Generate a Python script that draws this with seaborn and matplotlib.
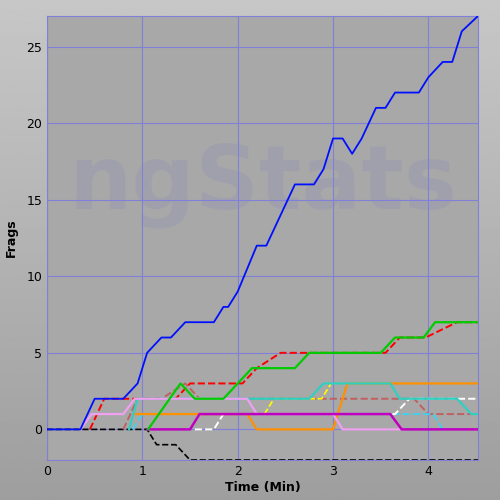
import matplotlib
matplotlib.use("Agg")
import matplotlib.pyplot as plt
import seaborn as sns
import numpy as np
import pandas as pd

# (time in minutes, frags) breakpoints per player
blue_t = [0, 0.35, 0.5, 0.8, 0.95, 1.05, 1.2, 1.3, 1.45, 1.75, 1.85, 1.9, 2.0, 2.2, 2.3, 2.45, 2.6, 2.8, 2.9, 3.0, 3.1, 3.2, 3.3, 3.45, 3.55, 3.65, 3.9, 4.0, 4.15, 4.25, 4.35, 4.52]
blue_v = [0, 0, 2, 2, 3, 5, 6, 6, 7, 7, 8, 8, 9, 12, 12, 14, 16, 16, 17, 19, 19, 18, 19, 21, 21, 22, 22, 23, 24, 24, 26, 27]
green_t = [1.06, 1.4, 1.55, 1.85, 2.15, 2.6, 2.75, 3.5, 3.65, 3.95, 4.07, 4.52]
green_v = [0, 3, 2, 2, 4, 4, 5, 5, 6, 6, 7, 7]
red_t = [0.45, 0.6, 0.92, 1.35, 1.5, 2.05, 2.2, 2.45, 3.55, 3.7, 3.97, 4.3, 4.52]
red_v = [0, 2, 2, 2, 3, 3, 4, 5, 5, 6, 6, 7, 7]
pink_t = [0.35, 0.47, 0.8, 0.92, 2.1, 2.2, 3.0, 3.1, 3.75]
pink_v = [0, 1, 1, 2, 2, 1, 1, 0, 0]
orange_t = [0.93, 2.1, 2.2, 3.0, 3.15, 4.52]
orange_v = [1, 1, 0, 0, 3, 3]
turq_t = [0.86, 0.95, 1.1, 2.75, 2.9, 3.6, 3.7, 4.3, 4.45, 4.52]
turq_v = [0, 2, 2, 2, 3, 3, 2, 2, 1, 1]
ltblue_t = [0.9, 1.0, 1.6, 3.6, 3.75, 4.05, 4.15]
ltblue_v = [0, 1, 1, 1, 1, 1, 0]
brown_t = [0.8, 0.95, 1.2, 1.45, 1.6, 3.85, 4.0, 4.52]
brown_v = [0, 2, 2, 3, 2, 2, 1, 1]
white_t = [1.55, 1.75, 1.85, 3.65, 3.8, 4.3, 4.52]
white_v = [0, 0, 1, 1, 2, 2, 2]
magenta_t = [1.05, 1.5, 1.6, 3.6, 3.72, 4.52]
magenta_v = [0, 0, 1, 1, 0, 0]
yellow_t = [2.28, 2.38, 2.88, 2.98]
yellow_v = [1, 2, 2, 3]
black_t = [0, 1.05, 1.15, 1.35, 1.5, 4.52]
black_v = [0, 0, -1, -1, -2, -2]

series = [
    (black_t, black_v, "black", "--", 1.2),
    (brown_t, brown_v, "#c06060", "--", 1.4),
    (ltblue_t, ltblue_v, "#40d0f0", "--", 1.4),
    (white_t, white_v, "white", "--", 1.4),
    (yellow_t, yellow_v, "yellow", "--", 1.2),
    (red_t, red_v, "red", "--", 1.4),
    (orange_t, orange_v, "#ff9000", "-", 1.6),
    (turq_t, turq_v, "#30d0c0", "-", 1.6),
    (pink_t, pink_v, "#f0a0f0", "-", 1.6),
    (magenta_t, magenta_v, "#c000c0", "-", 1.8),
    (green_t, green_v, "#00cc00", "-", 1.6),
    (blue_t, blue_v, "#0010ff", "-", 1.3),
]

fig = plt.figure(figsize=(5, 5), dpi=100)
bg = fig.add_axes([0, 0, 1, 1], zorder=-10)
grad = np.linspace(0.78, 0.62, 256).reshape(-1, 1)
bg.imshow(grad, cmap="gray", vmin=0, vmax=1, aspect="auto", extent=[0, 1, 0, 1])
bg.axis("off")

ax = fig.add_axes([0.094, 0.08, 0.862, 0.888])
ax.set_facecolor("#a8a8a8")
ax.text(0.5, 0.62, "ngStats", transform=ax.transAxes, ha="center", va="center",
        fontsize=64, fontweight="bold", color="#9090b8", alpha=0.3, zorder=0)

for t, v, c, ls, lw in series:
    df = pd.DataFrame({"t": t, "v": v})
    sns.lineplot(data=df, x="t", y="v", ax=ax, color=c, linestyle=ls, linewidth=lw,
                 sort=False, estimator=None, zorder=3)

ax.set_xlim(0, 4.52)
ax.set_ylim(-2, 27)
ax.set_xticks([0, 1, 2, 3, 4])
ax.set_yticks([0, 5, 10, 15, 20, 25])
ax.grid(True, color="#8080d8", linewidth=0.8)
ax.set_axisbelow(True)
for s in ax.spines.values():
    s.set_color("#8080d8")
ax.tick_params(length=0, labelsize=9)
ax.set_xlabel("Time (Min)", fontsize=9, fontweight="bold", labelpad=2)
ax.set_ylabel("Frags", fontsize=9, fontweight="bold", labelpad=6)
fig.savefig("out.png", dpi=100)
